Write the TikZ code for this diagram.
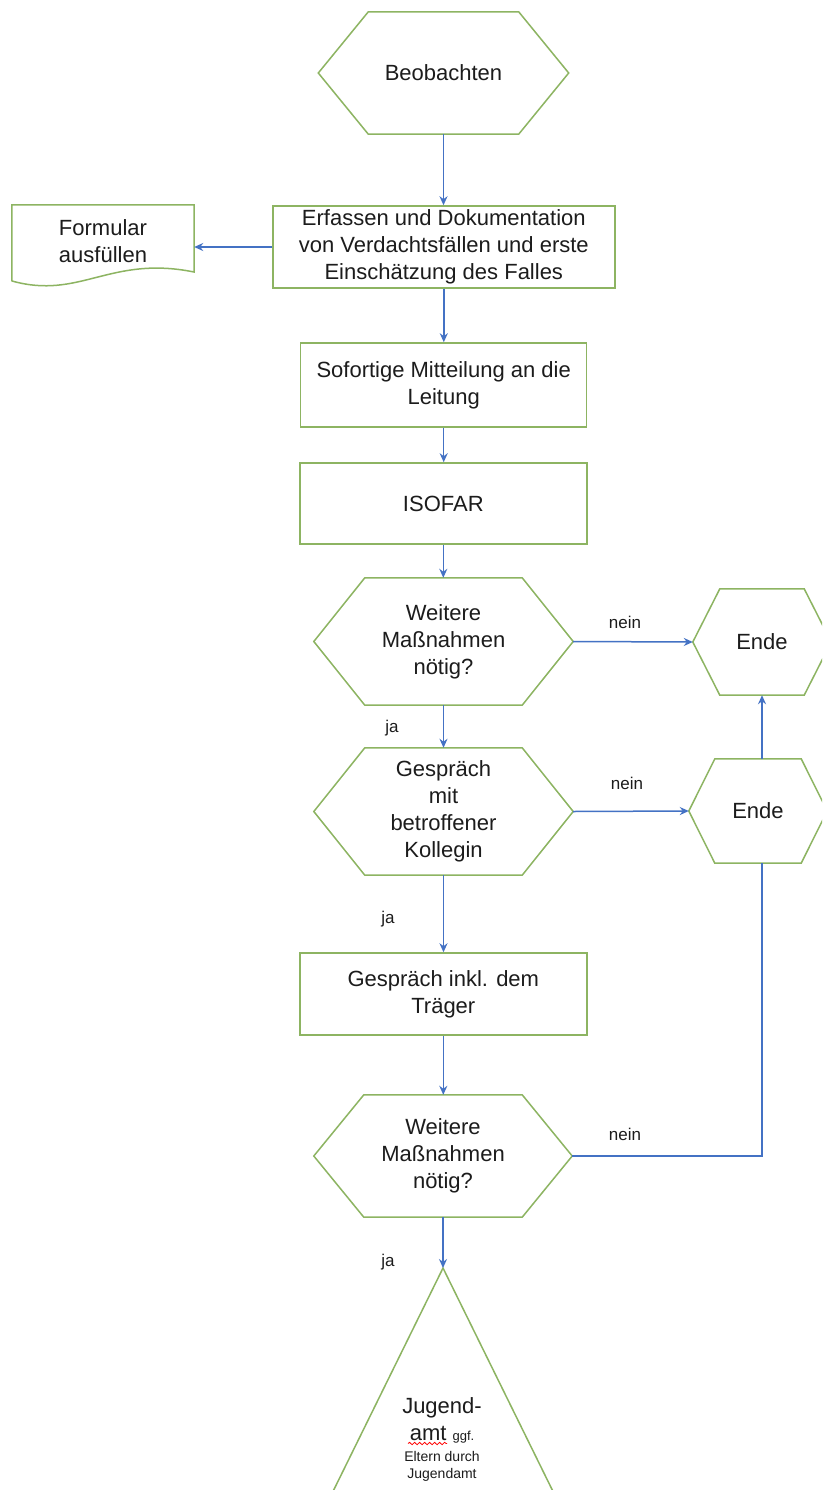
\documentclass[tikz,border=0pt]{standalone}
\usepackage{fontspec}
\setmainfont{Liberation Sans}
\usetikzlibrary{arrows.meta,decorations.pathmorphing,calc}
\definecolor{fgreen}{HTML}{8DB462}
\definecolor{fblue}{HTML}{4472C4}
\definecolor{ftext}{HTML}{1C1C1C}
\newcommand\hexoutline[2]{\draw[hexline] (#1.west) -- ([xshift=#2pt]#1.north west) -- ([xshift=-#2pt]#1.north east) -- (#1.east) -- ([xshift=-#2pt]#1.south east) -- ([xshift=#2pt]#1.south west) -- cycle;}
\begin{document}
\begin{tikzpicture}[x=1pt,y=-1pt,
  txt/.style={inner sep=0pt, align=center, text=ftext, font=\fontsize{22pt}{27pt}\selectfont},
  hexn/.style={txt},
  boxn/.style={txt, draw=fgreen, line width=1.5pt},
  hexline/.style={draw=fgreen, line width=1.5pt, line join=miter},
  arr/.style={draw=fblue, line width=1.5pt, -{Stealth[length=9pt,width=8pt]}},
  conn/.style={draw=fblue, line width=1.5pt},
  lbl/.style={inner sep=0pt, text=ftext, font=\fontsize{17pt}{20pt}\selectfont},
  smalltxt/.style={inner sep=0pt, text=ftext, font=\fontsize{14pt}{18pt}\selectfont},
]
\useasboundingbox (0,0) rectangle (822,1490);
\clip (0,0) rectangle (822,1490);
\fill[white] (0,0) rectangle (822,1490);

% nodes
\node[hexn, minimum width=250pt, minimum height=122pt] (beob) at (443.5,73) {Beobachten};
\hexoutline{beob}{50}

\node[boxn, minimum width=342pt, minimum height=82pt] (erf) at (443.8,247) {Erfassen und Dokumentation\\von Verdachtsfällen und erste\\Einschätzung des Falles};

\node[txt, minimum width=182pt, minimum height=72pt] (form) at (103,241) {Formular\\ausfüllen};
\draw[hexline] (form.north west) -- (form.north east) -- (194,272) .. controls (110,255) and (80,300) .. (12,281) -- cycle;

\node[boxn, minimum width=286pt, minimum height=84pt] (sof) at (443.7,385) {Sofortige Mitteilung an die\\Leitung};
\node[boxn, minimum width=287pt, minimum height=81pt] (iso) at (443.3,503.5) {ISOFAR};

\node[hexn, minimum width=259pt, minimum height=127pt] (w1) at (443.5,641.5) {Weitere\\Maßnahmen\\nötig?};
\hexoutline{w1}{51}
\node[hexn, minimum width=138pt, minimum height=106pt] (e1) at (762,642) {Ende};
\hexoutline{e1}{27}

\node[hexn, minimum width=259pt, minimum height=127pt] (gesp) at (443.5,811.5) {Gespräch\\mit\\betroffener\\Kollegin};
\hexoutline{gesp}{51}
\node[hexn, minimum width=138pt, minimum height=104pt] (e2) at (758,811) {Ende};
\hexoutline{e2}{26}

\node[boxn, minimum width=287pt, minimum height=82pt] (gi) at (443.3,994) {Gespräch inkl. dem\\Träger};

\node[hexn, minimum width=258pt, minimum height=122pt] (w2) at (443,1156) {Weitere\\Maßnahmen\\nötig?};
\hexoutline{w2}{50}

\coordinate (apex) at (443,1268);
\draw[hexline] (apex) -- ($(apex)+(-129,262)$) -- ($(apex)+(129,262)$) -- cycle;
\node[txt, anchor=base] (jug1) at (442,1413) {Jugend-};
\node[txt, anchor=base] (jug2) at (442,1440) {amt {\fontsize{13pt}{16pt}\selectfont ggf.}};
\node[smalltxt, anchor=base] (jug3) at (442,1461) {Eltern durch};
\node[smalltxt, anchor=base] (jug4) at (442,1478) {Jugendamt};
\draw[red, line width=0.8pt, decorate, decoration={snake, segment length=5pt, amplitude=1.2pt}] (408,1443.5) -- (447,1443.5);

% connectors
\draw[arr] (beob.south) -- (erf.north -| beob.south);
\draw[arr] (erf.west) -- (form.east |- erf.west);
\draw[arr] (erf.south) -- (sof.north -| erf.south);
\draw[arr] (sof.south) -- (iso.north -| sof.south);
\draw[arr] (iso.south) -- (w1.north -| iso.south);
\draw[arr] (w1.east) -- (e1.west);
\draw[arr] (w1.south) -- (gesp.north);
\draw[arr] (gesp.east) -- (e2.west);
\draw[arr] (e2.north -| e1.south) -- (e1.south);
\draw[conn] (e2.south -| e1.south) |- (w2.east);
\draw[arr] (gesp.south) -- (gi.north -| gesp.south);
\draw[arr] (gi.south) -- (w2.north -| gi.south);
\draw[arr] (w2.south) -- (apex);

% labels
\node[lbl] (n1) at (625,622) {nein};
\node[lbl] (n2) at (627,783) {nein};
\node[lbl] (n3) at (625,1134) {nein};
\node[lbl] (j1) at (392,728) {ja};
\node[lbl] (j2) at (388,919) {ja};
\node[lbl] (j3) at (388,1262) {ja};
\end{tikzpicture}
\end{document}
